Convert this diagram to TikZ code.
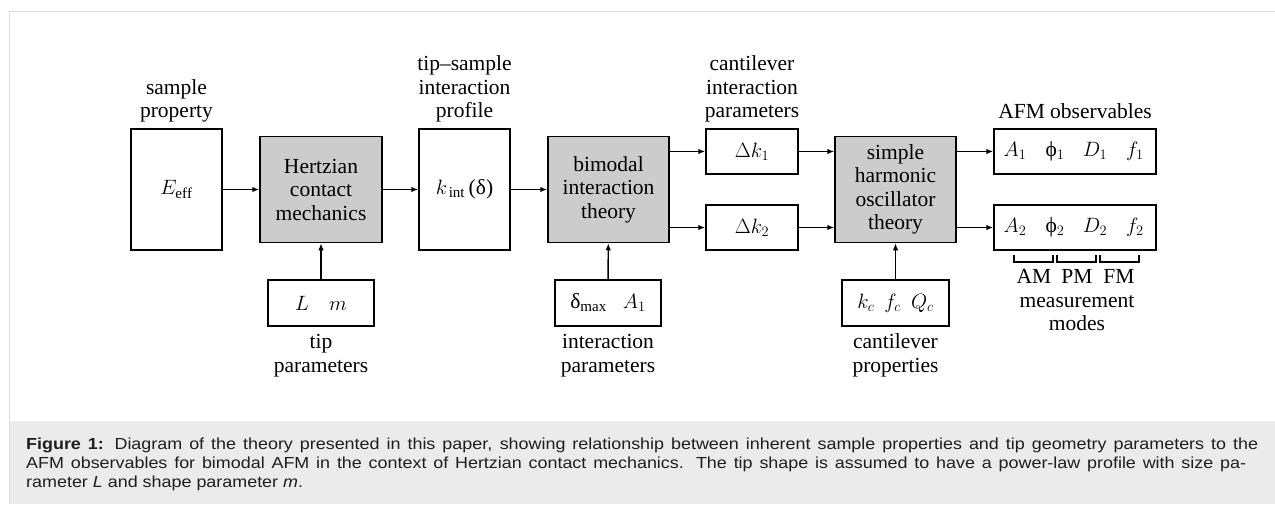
\documentclass[tikz,border=0pt]{standalone}
\usepackage{fontspec}
\setmainfont{Liberation Serif}
\newfontfamily\capfont[FakeStretch=1.12]{Liberation Sans}
\usetikzlibrary{arrows.meta}
\definecolor{theorygray}{HTML}{CCCCCC}
\definecolor{framegray}{HTML}{DDDDDD}
\definecolor{capbg}{HTML}{EBEBEB}
\definecolor{captext}{HTML}{1E1E1E}
\begin{document}
\begin{tikzpicture}[x=1pt,y=-1pt,
  every node/.style={font=\fontsize{21.5}{23.5}\selectfont},
  box/.style={draw, line width=1.5pt, inner sep=0pt, align=center},
  theory/.style={box, fill=theorygray},
  lbl/.style={inner sep=0pt, align=center},
  conn/.style={line width=1.4pt, -{Latex[length=7pt,width=5.5pt]}},
  bracketline/.style={line width=1.2pt},
  captionline/.style={anchor=base west, inner sep=0pt, text=captext, font=\capfont\fontsize{16}{19}\selectfont}]
\useasboundingbox (0,0) rectangle (1275,504);
% frame and caption background
\fill[capbg] (9,421) rectangle (1275,504);
\draw[framegray, line width=1pt] (9,504) -- (9,11) -- (1275,11);

% boxes
\node[box, minimum width=91, minimum height=121] (eeff) at (176.5,189.5) {$E_{\mathrm{eff}}$};
\node[theory, minimum width=122, minimum height=106] (hertz) at (321,189.5) {Hertzian\\contact\\mechanics};
\node[box, minimum width=106, minimum height=46] (tip) at (321,303) {$L$\hspace{20pt}$m$};
\node[box, minimum width=91, minimum height=121] (kint) at (464.5,189.5) {$k_{\,\mathrm{int}}$\,(δ)};
\node[theory, minimum width=121, minimum height=106] (bimodal) at (608.5,189.5) {bimodal\\interaction\\theory};
\node[box, minimum width=106, minimum height=46] (imp) at (608,303) {δ$_{\mathrm{max}}$\hspace{16pt}$A_1$};
\node[box, minimum width=92, minimum height=45] (dk1) at (752,151.5) {$\Delta k_1$};
\node[box, minimum width=92, minimum height=45] (dk2) at (752,227.5) {$\Delta k_2$};
\node[theory, minimum width=121, minimum height=106] (sho) at (895.5,189.5) {simple\\harmonic\\oscillator\\theory};
\node[box, minimum width=107, minimum height=46] (cant) at (895.5,303) {$k_c$\hspace{10pt}$f_c$\hspace{10pt}$Q_c$};
\node[box, minimum width=162, minimum height=45] (obs1) at (1075,151.5) {\makebox[40pt]{$A_1$}\makebox[40pt]{ϕ$_1$}\makebox[40pt]{$D_1$}\makebox[40pt]{$f_1$}};
\node[box, minimum width=162, minimum height=45] (obs2) at (1075,227.5) {\makebox[40pt]{$A_2$}\makebox[40pt]{ϕ$_2$}\makebox[40pt]{$D_2$}\makebox[40pt]{$f_2$}};

% labels above
\node[lbl, anchor=south] (lsample) at (176.5,125) {sample\\property\strut};
\node[lbl, anchor=south] (lprofile) at (464.5,125) {tip–sample\\interaction\\profile\strut};
\node[lbl, anchor=south] (lcantint) at (752,125) {cantilever\\interaction\\parameters\strut};
\node[lbl, anchor=south] (lobs) at (1075,125.5) {AFM observables\strut};
% labels below
\node[lbl, anchor=north] (ltip) at (321,332) {\strut tip\\parameters};
\node[lbl, anchor=north] (lint) at (608,332) {\strut interaction\\parameters};
\node[lbl, anchor=north] (lcantprop) at (895.5,332) {\strut cantilever\\properties};
\node[lbl, anchor=base] (lam) at (1034,283) {AM};
\node[lbl, anchor=base] (lpm) at (1077,283) {PM};
\node[lbl, anchor=base] (lfm) at (1119,283) {FM};
\node[lbl, anchor=north] (lmodes) at (1077,290.5) {\strut measurement\\modes};

% brackets
\draw[bracketline] (1014,255) -- (1014,262) -- (1053,262) -- (1053,255);
\draw[bracketline] (1057,255) -- (1057,262) -- (1096,262) -- (1096,255);
\draw[bracketline] (1100,255) -- (1100,262) -- (1139,262) -- (1139,255);

% connectors
\draw[conn] (eeff.east) -- (hertz.west |- eeff.east);
\draw[conn] (tip) -- (hertz);
\draw[conn] (hertz.east) -- (kint.west |- hertz.east);
\draw[conn] (kint.east) -- (bimodal.west |- kint.east);
\draw[conn] (imp) -- (bimodal);
\draw[conn] (bimodal.east |- dk1.west) -- (dk1.west);
\draw[conn] (bimodal.east |- dk2.west) -- (dk2.west);
\draw[conn] (dk1.east) -- (sho.west |- dk1.east);
\draw[conn] (dk2.east) -- (sho.west |- dk2.east);
\draw[conn] (cant) -- (sho);
\draw[conn] (sho.east |- obs1.west) -- (obs1.west);
\draw[conn] (sho.east |- obs2.west) -- (obs2.west);

% caption
\node[captionline] (cap1) at (26,449) {\makebox[1232pt][s]{\textbf{Figure 1:} Diagram of the theory presented in this paper, showing relationship between inherent sample properties and tip geometry parameters to the}};
\node[captionline] (cap2) at (26,468) {\makebox[1220pt][s]{AFM observables for bimodal AFM in the context of Hertzian contact mechanics. The tip shape is assumed to have a power-law profile with size pa-}};
\node[captionline] (cap3) at (26,487) {rameter \textit{L} and shape parameter \textit{m}.};
\end{tikzpicture}
\end{document}
